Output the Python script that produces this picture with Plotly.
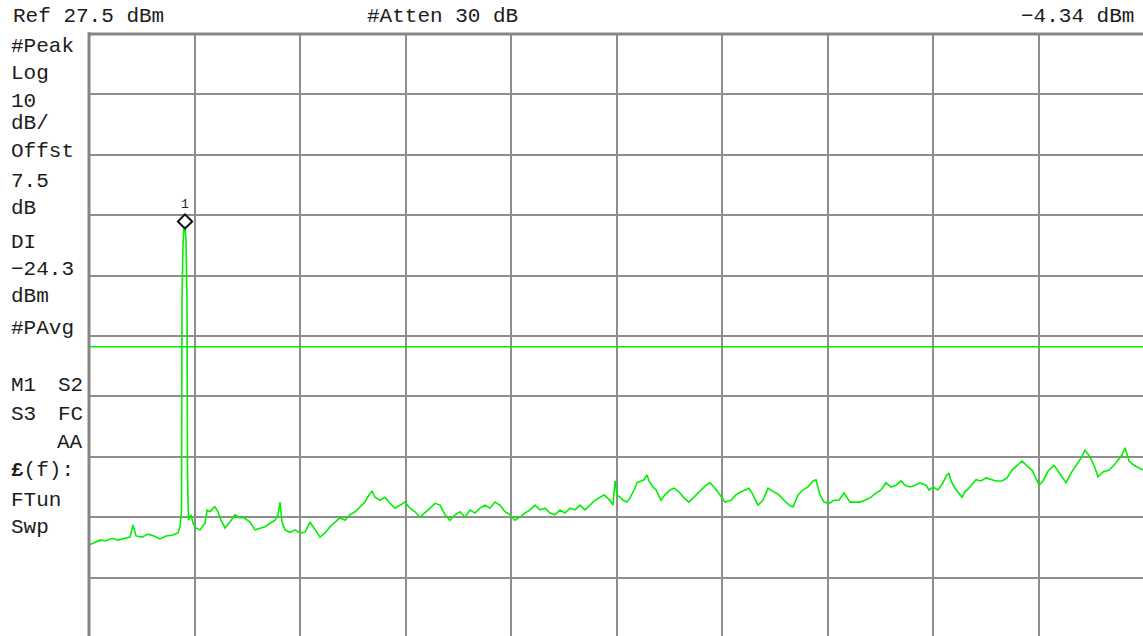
import plotly.graph_objects as go

# ---------------- data ----------------
REF_LEVEL_DBM = 27.5
DB_PER_DIV = 10
DISPLAY_LINE_DBM = -24.3
MARKER_LEVEL_DBM = -4.34
MARKER_BIN = 96

# sweep bins (0..1054 visible) and measured levels in dBm
trace_bin = [0, 6, 11, 17, 23, 29, 35, 41, 44, 47, 53, 59, 65, 71, 77, 83, 89, 91, 92.5, 93,
             94, 95, 96, 97, 98, 98.5, 99.5, 102, 104, 107, 111, 116, 118, 121, 124, 126, 129, 131, 136, 141,
             146, 151, 154, 161, 166, 171, 176, 181, 186, 189, 191, 193, 196, 201, 206, 211, 216, 221, 226, 231,
             236, 241, 246, 251, 256, 261, 266, 271, 276, 280, 283, 286, 291, 296, 301, 306, 311, 316, 321, 326,
             331, 336, 341, 346, 351, 356, 361, 366, 371, 376, 381, 386, 391, 396, 401, 406, 411, 416, 421, 426,
             431, 436, 441, 446, 451, 456, 461, 466, 471, 476, 481, 486, 491, 496, 501, 506, 510, 515, 521, 524,
             526, 528, 531, 534, 538, 541, 545, 548, 552, 555, 558, 560, 564, 567, 572, 576, 581, 585, 590, 595,
             600, 605, 610, 614, 617, 621, 626, 631, 636, 642, 647, 652, 657, 660, 664, 669, 674, 679, 685, 690,
             695, 700, 704, 709, 714, 719, 724, 727, 731, 735, 740, 745, 750, 755, 761, 766, 771, 776, 781, 787,
             792, 797, 802, 807, 812, 816, 821, 826, 831, 837, 840, 844, 849, 854, 857, 860, 862, 866, 869, 873,
             876, 881, 887, 892, 897, 902, 907, 913, 918, 923, 928, 933, 938, 943, 946, 950, 954, 959, 965, 969,
             973, 977, 982, 987, 992, 996, 1001, 1006, 1009, 1014, 1020, 1025, 1030, 1033, 1036, 1040, 1045, 1051, 1054]
trace_dbm = [-57.1, -56.6, -56.3, -56.4, -56.0, -56.3, -56.0, -55.8, -53.8, -55.6, -55.8, -55.3, -55.6, -56.1, -55.6, -55.5, -55.1, -54.0, -51.6, -16.5,
             -7.4, -4.6, -4.34, -6.6, -16.5, -45.2, -53.0, -52.1, -53.5, -54.3, -54.6, -53.5, -51.3, -51.6, -51.0, -50.8, -51.6, -52.6, -54.3, -53.3,
             -52.1, -52.6, -52.5, -53.3, -54.6, -54.3, -54.1, -53.5, -53.0, -52.1, -50.0, -53.3, -54.6, -55.0, -54.6, -55.1, -55.0, -53.3, -54.6, -55.8,
             -55.1, -54.1, -53.3, -52.6, -53.0, -52.1, -51.6, -50.8, -50.0, -48.8, -48.2, -49.2, -49.7, -49.2, -50.2, -51.0, -50.5, -50.0, -51.0, -51.6,
             -52.5, -51.8, -51.0, -50.2, -50.5, -52.1, -53.0, -52.1, -51.6, -52.5, -51.3, -51.8, -51.0, -50.5, -51.0, -50.0, -50.5, -51.6, -52.1, -53.0,
             -52.5, -51.8, -51.3, -50.5, -51.3, -51.0, -51.8, -52.1, -51.3, -51.8, -51.0, -51.3, -50.5, -51.3, -50.5, -49.7, -49.3, -48.8, -49.7, -50.5,
             -46.5, -48.8, -49.2, -49.7, -50.0, -49.3, -48.0, -46.8, -46.5, -46.3, -45.5, -46.5, -47.5, -48.0, -49.7, -48.8, -48.0, -47.7, -48.3, -49.3,
             -50.0, -49.2, -48.3, -47.7, -47.2, -46.8, -47.7, -48.8, -50.0, -49.7, -48.8, -48.3, -48.0, -47.7, -48.8, -50.5, -49.7, -47.7, -48.3, -48.8,
             -49.7, -50.5, -50.8, -48.8, -48.0, -47.5, -46.5, -46.3, -48.8, -50.0, -50.2, -49.7, -49.7, -48.5, -50.0, -50.0, -50.0, -49.7, -49.3, -48.5,
             -48.0, -46.8, -47.5, -47.2, -46.5, -47.2, -47.5, -47.2, -46.8, -47.2, -48.0, -47.5, -48.0, -46.8, -45.7, -45.2, -46.5, -47.7, -48.3, -49.2,
             -48.3, -47.5, -46.3, -46.5, -46.0, -46.3, -46.5, -46.5, -46.0, -44.7, -43.9, -43.2, -44.0, -44.7, -45.7, -47.2, -46.5, -44.9, -43.9, -44.9,
             -45.8, -46.8, -45.2, -43.9, -42.7, -41.4, -42.5, -44.3, -45.8, -45.0, -44.7, -43.9, -42.9, -42.2, -41.0, -43.2, -43.9, -44.5, -44.7]

header_texts = ["Ref 27.5 dBm", "#Atten 30 dB", "\u22124.34 dBm"]
left_labels = ["#Peak", "Log", "10", "dB/", "Offst", "7.5", "dB", "DI", "\u221224.3", "dBm",
               "#PAvg", "M1", "S3", "<b>\u00a3</b>(f):", "FTun", "Swp"]
right_labels = ["S2", "FC", "AA"]

# ---------------- layout geometry ----------------
W, H = 1143, 636
ML, MT = 89, 34
PW, PH = W - ML, H - MT
PX_PER_DIV_Y = 60.4
Y_TOP = REF_LEVEL_DBM
Y_BOT = REF_LEVEL_DBM - PH / PX_PER_DIV_Y * DB_PER_DIV
BIN_PER_DIV = 105.5


def px(xp):
    return (xp - ML) / PW


def py(yp):
    return (H - yp) / PH


GREEN = "#00f000"
TXT = "#1c1c1c"
GRID = "#8e8e8e"
FONT = "Liberation Mono, DejaVu Sans Mono, monospace"
FS = 21

fig = go.Figure()

fig.add_trace(go.Scatter(x=trace_bin, y=trace_dbm, mode="lines",
                         line=dict(color=GREEN, width=1.6), hoverinfo="skip"))

# display line
fig.add_trace(go.Scatter(x=[0, PW], y=[DISPLAY_LINE_DBM, DISPLAY_LINE_DBM], mode="lines",
                         line=dict(color=GREEN, width=1.5), hoverinfo="skip"))

# marker 1 (diamond drawn just above the trace peak)
fig.add_trace(go.Scatter(x=[MARKER_BIN], y=[MARKER_LEVEL_DBM + 0.8], mode="markers",
                         marker=dict(symbol="diamond-open", size=11, color="#111111",
                                     line=dict(width=2, color="#111111")),
                         hoverinfo="skip"))

annotations = []
annotations.append(dict(x=MARKER_BIN, y=MARKER_LEVEL_DBM + 0.8, xref="x", yref="y", text="1",
                        showarrow=False, yshift=17, font=dict(family=FONT, size=13, color=TXT)))

# header
annotations.append(dict(x=px(11), y=py(17), xref="paper", yref="paper", text=header_texts[0],
                        xanchor="left", yanchor="middle", showarrow=False,
                        font=dict(family=FONT, size=FS, color=TXT)))
annotations.append(dict(x=px(442), y=py(17), xref="paper", yref="paper", text=header_texts[1],
                        xanchor="center", yanchor="middle", showarrow=False,
                        font=dict(family=FONT, size=FS, color=TXT)))
annotations.append(dict(x=px(1136), y=py(17), xref="paper", yref="paper", text=header_texts[2],
                        xanchor="right", yanchor="middle", showarrow=False,
                        font=dict(family=FONT, size=FS, color=TXT)))

left_y = [46, 73, 101, 124, 151, 181, 208, 242, 269, 296, 328, 385, 414, 471, 500, 527]
for t, yy in zip(left_labels, left_y):
    annotations.append(dict(x=px(9), y=py(yy), xref="paper", yref="paper", text=t,
                            xanchor="left", yanchor="middle", showarrow=False,
                            font=dict(family=FONT, size=FS, color=TXT)))
right_y = [385, 414, 442]
for t, yy in zip(right_labels, right_y):
    annotations.append(dict(x=px(85), y=py(yy), xref="paper", yref="paper", text=t,
                            xanchor="right", yanchor="middle", showarrow=False,
                            font=dict(family=FONT, size=FS, color=TXT)))

shapes = [
    dict(type="line", xref="paper", yref="paper", x0=0, x1=0, y0=0, y1=1.003,
         line=dict(color="#858585", width=3)),
    dict(type="line", xref="paper", yref="paper", x0=0, x1=1, y0=1, y1=1,
         line=dict(color="#858585", width=3)),
]

fig.update_layout(
    width=W, height=H, autosize=False,
    margin=dict(l=ML, r=0, t=MT, b=0, pad=0),
    paper_bgcolor="white", plot_bgcolor="white",
    showlegend=False,
    annotations=annotations, shapes=shapes,
    xaxis=dict(range=[0, PW], showgrid=True, gridcolor=GRID, gridwidth=2,
               tick0=0, dtick=BIN_PER_DIV, showticklabels=False, ticks="",
               zeroline=False, showline=False, fixedrange=True),
    yaxis=dict(range=[Y_BOT, Y_TOP], showgrid=True, gridcolor=GRID, gridwidth=2,
               tick0=REF_LEVEL_DBM, dtick=DB_PER_DIV, showticklabels=False, ticks="",
               zeroline=False, showline=False, fixedrange=True),
)

fig.write_html("out.html", config={"displayModeBar": False},
               post_script="document.body.style.margin='0';document.body.style.overflow='hidden';")
